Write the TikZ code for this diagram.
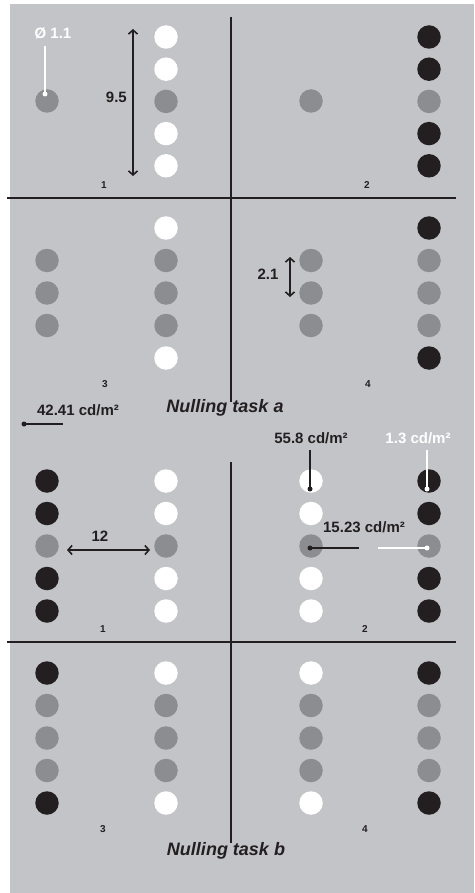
\documentclass[tikz,border=0pt]{standalone}
\usepackage{fontspec}
\setmainfont{Liberation Sans}
\usetikzlibrary{arrows.meta}
\definecolor{bg}{HTML}{C3C4C8}
\definecolor{gr}{HTML}{8C8D90}
\definecolor{bk}{HTML}{231F20}
\begin{document}
\begin{tikzpicture}[x=1pt,y=-1pt,
  dot/.style={circle,inner sep=0pt,minimum size=23.5pt},
  wd/.style={dot,fill=white},
  bd/.style={dot,fill=bk},
  gd/.style={dot,fill=gr},
  lbl/.style={font=\bfseries\fontsize{15}{15}\selectfont,text=bk,inner sep=0pt},
  wlbl/.style={lbl,text=white},
  num/.style={font=\bfseries\fontsize{10}{10}\selectfont,text=bk,inner sep=0pt},
  ttl/.style={font=\bfseries\itshape\fontsize{18}{18}\selectfont,text=bk,inner sep=0pt},
  dimarrow/.style={line width=1.6pt,bk,{Straight Barb[length=4pt,width=9pt]}-{Straight Barb[length=4pt,width=9pt]}},
  rulebar/.style={line width=2.6pt,bk},
  pin/.style={line width=2pt},
  pindot/.style={circle,inner sep=0pt,minimum size=5pt}]
\useasboundingbox (0,0) rectangle (474,893);
\fill[bg] (10,4) rectangle (474,893);

% dividing lines
\coordinate (ha1) at (7,198); \coordinate (ha2) at (456,198);
\coordinate (va1) at (231,17); \coordinate (va2) at (231,402);
\coordinate (hb1) at (7,642); \coordinate (hb2) at (456,642);
\coordinate (vb1) at (231,462); \coordinate (vb2) at (231,843);
\draw[rulebar] (ha1) -- (ha2);
\draw[rulebar] (va1) -- (va2);
\draw[rulebar] (hb1) -- (hb2);
\draw[rulebar] (vb1) -- (vb2);

% ---------- task a ----------
% panel 1
\node[gd] (a1l3) at (47,101) {};
\foreach \s [count=\i] in {wd,wd,gd,wd,wd}
  \node[\s] (a1r\i) at (166,{37+32.2*(\i-1)}) {};
% panel 2
\node[gd] (a2l3) at (311,101) {};
\foreach \s [count=\i] in {bd,bd,gd,bd,bd}
  \node[\s] (a2r\i) at (429,{37+32.2*(\i-1)}) {};
% panel 3
\foreach \i in {2,3,4}
  \node[gd] (a3l\i) at (47,{228+32.5*(\i-1)}) {};
\foreach \s [count=\i] in {wd,gd,gd,gd,wd}
  \node[\s] (a3r\i) at (166,{228+32.5*(\i-1)}) {};
% panel 4
\foreach \i in {2,3,4}
  \node[gd] (a4l\i) at (311,{228+32.5*(\i-1)}) {};
\foreach \s [count=\i] in {bd,gd,gd,gd,bd}
  \node[\s] (a4r\i) at (429,{228+32.5*(\i-1)}) {};

% ---------- task b ----------
\foreach \s [count=\i] in {bd,bd,gd,bd,bd}
  \node[\s] (b1l\i) at (47,{481+32.5*(\i-1)}) {};
\foreach \s [count=\i] in {wd,wd,gd,wd,wd}
  \node[\s] (b1r\i) at (166,{481+32.5*(\i-1)}) {};
\foreach \s [count=\i] in {wd,wd,gd,wd,wd}
  \node[\s] (b2l\i) at (311,{481+32.5*(\i-1)}) {};
\foreach \s [count=\i] in {bd,bd,gd,bd,bd}
  \node[\s] (b2r\i) at (429,{481+32.5*(\i-1)}) {};
\foreach \s [count=\i] in {bd,gd,gd,gd,bd}
  \node[\s] (b3l\i) at (47,{673+32.5*(\i-1)}) {};
\foreach \s [count=\i] in {wd,gd,gd,gd,wd}
  \node[\s] (b3r\i) at (166,{673+32.5*(\i-1)}) {};
\foreach \s [count=\i] in {wd,gd,gd,gd,wd}
  \node[\s] (b4l\i) at (311,{673+32.5*(\i-1)}) {};
\foreach \s [count=\i] in {bd,gd,gd,gd,bd}
  \node[\s] (b4r\i) at (429,{673+32.5*(\i-1)}) {};

% panel numbers
\node[num] (na1) at (104,185) {1};
\node[num] (na2) at (367,185) {2};
\node[num] (na3) at (105,384) {3};
\node[num] (na4) at (368,384) {4};
\node[num] (nb1) at (103,629) {1};
\node[num] (nb2) at (365,629) {2};
\node[num] (nb3) at (103,829) {3};
\node[num] (nb4) at (365,829) {4};

% titles
\node[ttl] (ta) at (225,408) {Nulling task a};
\node[ttl] (tb) at (226,851) {Nulling task b};

% ---------- annotations ----------
% diameter
\node[wlbl] (diam) at (53,33) {Ø 1.1};
\node[pindot,fill=white] (diamdot) at (45,94) {};
\coordinate (diamtop) at (45,46);
\draw[pin,white] (diamtop) -- (diamdot.center);

% 9.5 arrow
\coordinate (h1) at (133,29); \coordinate (h2) at (133,176);
\draw[dimarrow] (h1) -- (h2);
\node[lbl,anchor=east] (h95) at (127,97) {9.5};

% 2.1 arrow
\coordinate (s1) at (290,257); \coordinate (s2) at (290,297);
\draw[dimarrow] (s1) -- (s2);
\node[lbl] (s21) at (268,274) {2.1};

% 42.41 scale
\node[lbl] (l4241) at (78,410) {42.41 cd/m²};
\node[pindot,fill=bk] (ldot) at (24,424) {};
\coordinate (lend) at (63,424);
\draw[pin,bk] (ldot.center) -- (lend);

% 12 arrow
\coordinate (d1) at (67,550); \coordinate (d2) at (150,550);
\draw[dimarrow] (d1) -- (d2);
\node[lbl] (d12) at (100,536) {12};

% 55.8
\node[lbl] (l558) at (311,438) {55.8 cd/m²};
\coordinate (p558) at (310,450);
\node[pindot,fill=bk] (d558) at (310,489) {};
\draw[pin,bk] (p558) -- (d558.center);

% 1.3
\node[wlbl] (l13) at (418,438) {1.3 cd/m²};
\coordinate (p13) at (427,450);
\node[pindot,fill=white] (d13) at (427,489) {};
\draw[pin,white] (p13) -- (d13.center);

% 15.23
\node[lbl] (l1523) at (364,527) {15.23 cd/m²};
\node[pindot,fill=bk] (d1523a) at (310,548) {};
\coordinate (e1523a) at (359,548);
\draw[pin,bk] (d1523a.center) -- (e1523a);
\node[pindot,fill=white] (d1523b) at (427,548) {};
\coordinate (e1523b) at (378,548);
\draw[pin,white] (e1523b) -- (d1523b.center);
\end{tikzpicture}
\end{document}
